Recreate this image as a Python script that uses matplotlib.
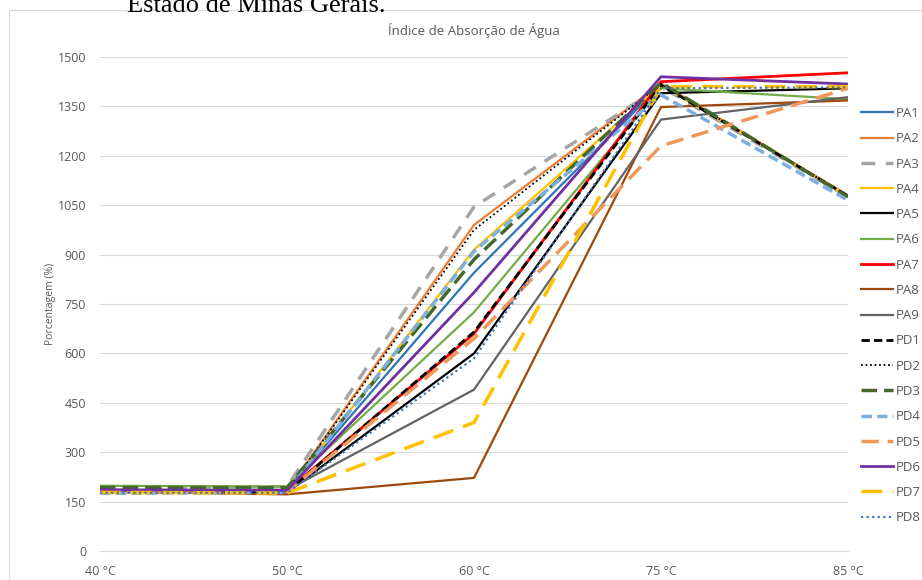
import matplotlib.pyplot as plt
from matplotlib.patches import Rectangle

temps = ['40 °C', '50 °C', '60 °C', '75 °C', '85 °C']

PA1 = [182, 185, 845, 1415, 1078]
PA2 = [180, 182, 990, 1420, 1080]
PA3 = [192, 195, 1045, 1410, 1075]
PA4 = [178, 180, 915, 1415, 1078]
PA5 = [180, 178, 600, 1390, 1405]
PA6 = [198, 196, 725, 1405, 1372]
PA7 = [183, 183, 660, 1425, 1452]
PA8 = [180, 172, 222, 1348, 1368]
PA9 = [185, 185, 490, 1310, 1378]
PD1 = [182, 180, 665, 1415, 1078]
PD2 = [185, 182, 975, 1418, 1078]
PD3 = [193, 192, 885, 1422, 1075]
PD4 = [175, 178, 910, 1385, 1065]
PD5 = [180, 180, 645, 1230, 1405]
PD6 = [186, 184, 785, 1440, 1418]
PD7 = [178, 176, 390, 1410, 1410]
PD8 = [177, 177, 585, 1405, 1408]

series = [
    ('PA1', PA1, '#2E75B6', 1.6, '-'),
    ('PA2', PA2, '#ED7D31', 1.6, '-'),
    ('PA3', PA3, '#A5A5A5', 2.5, (0, (4, 3))),
    ('PA4', PA4, '#FFC000', 1.6, '-'),
    ('PA5', PA5, '#000000', 1.6, '-'),
    ('PA6', PA6, '#70AD47', 1.6, '-'),
    ('PA7', PA7, '#FF0000', 2.0, '-'),
    ('PA8', PA8, '#9E480E', 1.6, '-'),
    ('PA9', PA9, '#636363', 1.6, '-'),
    ('PD1', PD1, '#000000', 2.0, (0, (3, 1.5))),
    ('PD2', PD2, '#000000', 1.3, (0, (1, 1.5))),
    ('PD3', PD3, '#43682B', 2.5, (0, (4.5, 2))),
    ('PD4', PD4, '#7CAFDD', 2.5, (0, (3, 1.5))),
    ('PD5', PD5, '#F1975A', 2.5, (0, (5, 2.5))),
    ('PD6', PD6, '#7030A0', 2.0, '-'),
    ('PD7', PD7, '#FFC000', 2.5, (0, (6, 3))),
    ('PD8', PD8, '#4472C4', 1.6, (0, (1, 1.5))),
]

plt.rcParams['font.family'] = 'Open Sans'
grey = '#595959'

fig = plt.figure(figsize=(9.22, 5.8), dpi=100)
fig.patches.append(Rectangle((9/922, 0), 1, 1 - 10/580, transform=fig.transFigure,
                             fill=False, ec='#d9d9d9', lw=0.8))
fig.text(127/922, 1 - 12/580, 'Estado de Minas Gerais.', family='Liberation Serif',
         fontsize=19, va='baseline', ha='left', color='black')

ax = fig.add_axes([100/922, 1 - 551/580, 748/922, 494/580])

x = list(range(len(temps)))
for name, vals, color, lw, ls in series:
    ax.plot(x, vals, color=color, lw=lw, linestyle=ls, label=name)

ax.set_xlim(0, len(temps) - 1)
ax.set_ylim(0, 1500)
ax.set_yticks(range(0, 1501, 150))
ax.set_xticks(x)
ax.set_xticklabels(temps)
ax.tick_params(length=0, colors=grey, labelsize=9)
ax.tick_params(axis='y', pad=10)
ax.tick_params(axis='x', pad=10)
ax.grid(axis='y', color='#d9d9d9', lw=0.8)
ax.set_axisbelow(True)
for s in ['top', 'right', 'left']:
    ax.spines[s].set_visible(False)
ax.spines['bottom'].set_color('#d9d9d9')

ax.set_title('Índice de Absorção de Água', color=grey, fontsize=9.5, pad=16)
ax.set_ylabel('Porcentagem (%)', color=grey, fontsize=7.5, labelpad=1)

leg = fig.legend(loc='upper left', bbox_to_anchor=(861/922, 1 - 107/580), frameon=False,
                 handlelength=2.4, handletextpad=0.2, labelspacing=0.93, fontsize=9.5,
                 borderaxespad=0, borderpad=0)
for t in leg.get_texts():
    t.set_color(grey)

fig.savefig('out.png', dpi=100)
